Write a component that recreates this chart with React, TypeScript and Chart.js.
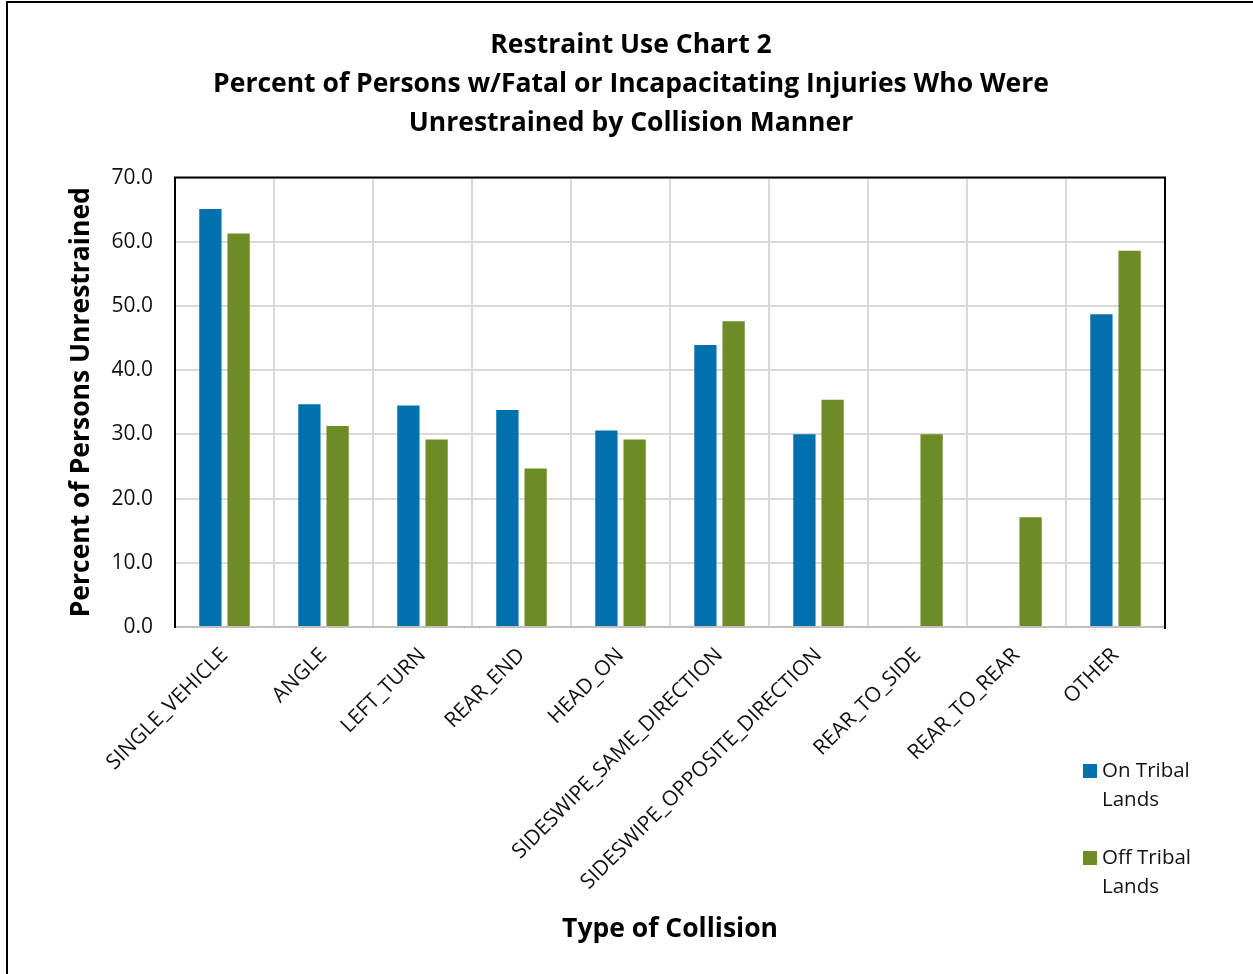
import React, { useEffect, useRef } from "react";
import { Chart, registerables } from "chart.js";

Chart.register(...registerables);

const categories = [
  "SINGLE_VEHICLE",
  "ANGLE",
  "LEFT_TURN",
  "REAR_END",
  "HEAD_ON",
  "SIDESWIPE_SAME_DIRECTION",
  "SIDESWIPE_OPPOSITE_DIRECTION",
  "REAR_TO_SIDE",
  "REAR_TO_REAR",
  "OTHER",
];
const onTribal: (number | null)[] = [65.1, 34.7, 34.5, 33.8, 30.6, 43.9, 30.0, null, null, 48.7];
const offTribal: (number | null)[] = [61.3, 31.3, 29.2, 24.7, 29.2, 47.6, 35.4, 30.0, 17.1, 58.6];
const seriesNames = ["On Tribal Lands", "Off Tribal Lands"];
const legendLines = [["On Tribal", "Lands"], ["Off Tribal", "Lands"]];
const seriesColors = ["#0071AC", "#6E8C25"];
const titleLines = [
  "Restraint Use Chart 2",
  "Percent of Persons w/Fatal or Incapacitating Injuries Who Were",
  "Unrestrained by Collision Manner",
];
const yAxisTitle = "Percent of Persons Unrestrained";
const xAxisTitle = "Type of Collision";
const FONT = "'Open Sans', 'Noto Sans', sans-serif";

export default function App() {
  const ref = useRef<HTMLCanvasElement>(null);
  useEffect(() => {
    document.body.style.margin = "0";
    const canvas = ref.current;
    if (!canvas) return;

    const decor = {
      id: "decor",
      afterDraw(chart: any) {
        const ctx = chart.ctx;
        const a = chart.chartArea;
        ctx.save();
        // outer frame
        ctx.fillStyle = "#000";
        ctx.fillRect(6, 1, 2, 973);
        ctx.fillRect(6, 1, 1247, 2);
        // plot top / right border
        ctx.strokeStyle = "#000";
        ctx.lineWidth = 2;
        ctx.beginPath();
        ctx.moveTo(a.left - 1, a.top);
        ctx.lineTo(a.right, a.top);
        ctx.lineTo(a.right, a.bottom + 2);
        ctx.stroke();
        // legend
        ctx.font = `20.5px ${FONT}`;
        ctx.textBaseline = "middle";
        ctx.textAlign = "left";
        const starts = [771, 858];
        legendLines.forEach((lines, i) => {
          const y = starts[i];
          ctx.fillStyle = seriesColors[i];
          ctx.fillRect(1083, y - 7, 14, 14);
          ctx.fillStyle = "#111";
          lines.forEach((t, j) => ctx.fillText(t, 1102, y + j * 29));
        });
        ctx.restore();
      },
    };

    const chart = new Chart(canvas, {
      type: "bar",
      data: {
        labels: categories,
        datasets: [
          {
            label: seriesNames[0],
            data: onTribal,
            backgroundColor: seriesColors[0],
            categoryPercentage: 0.57,
            barPercentage: 0.79,
          },
          {
            label: seriesNames[1],
            data: offTribal,
            backgroundColor: seriesColors[1],
            categoryPercentage: 0.57,
            barPercentage: 0.79,
          },
        ],
      },
      options: {
        responsive: false,
        animation: false,
        layout: { padding: { left: 64, right: 55, top: 0, bottom: 10 } },
        plugins: {
          legend: { display: false },
          tooltip: { enabled: false },
          title: {
            display: true,
            text: titleLines,
            color: "#000",
            font: { family: FONT, size: 26.5, weight: "bold", lineHeight: 1.472 },
            padding: { top: 25.5, bottom: 35 },
          },
        },
        scales: {
          x: {
            grid: { color: "#d9d9d9", lineWidth: 2, drawTicks: false, offset: true },
            border: { color: "#c0c0c0", width: 2 },
            ticks: {
              color: "#111",
              font: { family: FONT, size: 21 },
              minRotation: 45,
              maxRotation: 45,
              autoSkip: false,
              padding: 16,
            },
            title: {
              display: true,
              text: xAxisTitle,
              color: "#000",
              font: { family: FONT, size: 26.5, weight: "bold", lineHeight: 1.2 },
              padding: { top: 4, bottom: 19 },
            },
            afterFit(scale: any) {
              scale.height = 337;
            },
          },
          y: {
            min: 0,
            max: 70,
            ticks: {
              stepSize: 10,
              color: "#111",
              font: { family: FONT, size: 21 },
              padding: 22,
              callback: (v: any) => Number(v).toFixed(1),
            },
            grid: { color: "#d9d9d9", lineWidth: 2, drawTicks: false },
            border: { color: "#000", width: 2 },
            title: {
              display: true,
              text: yAxisTitle,
              color: "#000",
              font: { family: FONT, size: 26.5, weight: "bold", lineHeight: 1.2 },
              padding: { top: 2, bottom: 8 },
            },
            afterFit(scale: any) {
              scale.width = 111;
            },
          },
          yRight: {
            position: "right",
            display: true,
            ticks: { display: false },
            grid: { display: false, drawOnChartArea: false },
            border: { display: false },
            afterFit(scale: any) {
              scale.width = 33;
            },
          },
        },
      },
      plugins: [decor],
    } as any);
    return () => chart.destroy();
  }, []);

  return (
    <div style={{ width: 1253, height: 974, background: "#fff" }}>
      <canvas ref={ref} width={1253} height={974} style={{ display: "block" }} />
    </div>
  );
}
